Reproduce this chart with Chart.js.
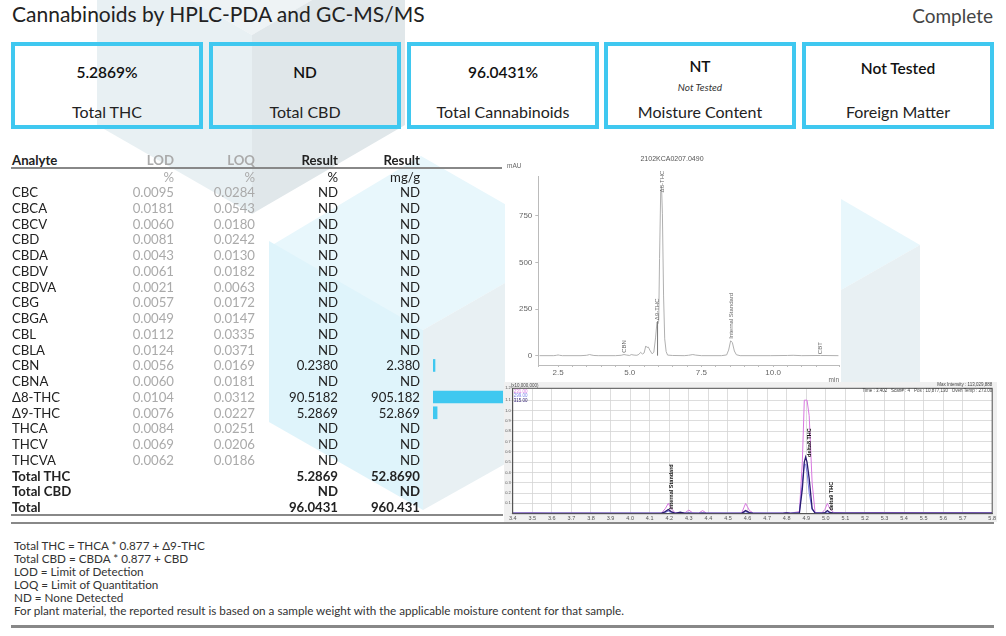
<!DOCTYPE html>
<html>
<head>
<meta charset="utf-8">
<script src="https://cdn.jsdelivr.net/npm/chart.js@4"></script>
<style>
html,body{margin:0;padding:0;background:#fff;overflow:hidden}
#page{position:relative;width:1006px;height:636px;font-family:Lato,sans-serif;color:#222;overflow:hidden}
#page>*{position:absolute}
#bg{left:0;top:0}
#title{left:12px;top:0;font-size:21px;line-height:28px;color:#222}
#status{right:13px;top:2px;font-size:19px;line-height:28px;color:#444}
.box{top:42px;height:87px;width:192px;box-sizing:border-box;border:4px solid #3fc8f0;text-align:center}
.box div{position:absolute;left:0;right:0}
.box .val{font-size:15.5px;font-weight:600;color:#111;line-height:20px}
.box .sub{font-size:10px;font-style:italic;top:35px;line-height:12px;color:#333}
.box .lab{font-size:16px;top:56px;line-height:20px;color:#222}
.cell{font-size:13.2px;line-height:16px;white-space:nowrap}
.r{text-align:right;width:90px}
.muted{color:#aaa}
.b{font-weight:700}
.rule{background:#888}
#notes{left:14px;top:539px;font-size:11.7px;line-height:13px;color:#333;white-space:nowrap}
#hplcWrap{left:505px;top:150px;width:336px;height:232px;background:#fff}
#gcWrap{left:504px;top:382px;width:493px;height:140px;background:#f0f0f0}
canvas{display:block}
#hplc{filter:blur(.45px)}
#gc{filter:blur(.3px)}
</style>
</head>
<body>
<div id="page">
<svg id="bg" width="1006" height="636">
  <polygon points="191,0 312,0 252,35" fill="#eef3f5"/>
  <polygon points="97,0 191,0 252,35 252,214 97,125" fill="#e8f0f3"/>
  <polygon points="312,0 405,0 405,125 252,214 252,35" fill="#e0e7ea"/>
  <polygon points="269,247 421,156 573,243 505,283 423,330" fill="#e8f7fc"/>
  <polygon points="269,241 423,330 423,510 269,422" fill="#dff4fb"/>
  <polygon points="423,330 505,283 505,464 423,510" fill="#e8f0f3"/>
  <polygon points="841,199 920,245 841,290" fill="#e8f7fc"/>
  <polygon points="841,290 920,245 920,390 841,390" fill="#e8f0f3"/>
</svg>
<div id="title">Cannabinoids by HPLC-PDA and GC-MS/MS</div>
<div id="status">Complete</div>
<div id="hplcWrap"><canvas id="hplc" width="336" height="232"></canvas></div>
<div id="gcWrap"><canvas id="gc" width="493" height="140"></canvas></div>
<canvas id="bars" width="72" height="284" style="left:433px;top:184px"></canvas>
<div id="notes"></div>
</div>

<script>
// summary boxes
const boxLefts=[11,209,407,604,802];
const boxValues=["5.2869%","ND","96.0431%","NT","Not Tested"];
const boxSubs=["","","","Not Tested",""];
const boxLabels=["Total THC","Total CBD","Total Cannabinoids","Moisture Content","Foreign Matter"];

// results table
const analytes=["CBC","CBCA","CBCV","CBD","CBDA","CBDV","CBDVA","CBG","CBGA","CBL","CBLA","CBN","CBNA","Δ8-THC","Δ9-THC","THCA","THCV","THCVA"];
const lodValues=["0.0095","0.0181","0.0060","0.0081","0.0043","0.0061","0.0021","0.0057","0.0049","0.0112","0.0124","0.0056","0.0060","0.0104","0.0076","0.0084","0.0069","0.0062"];
const loqValues=["0.0284","0.0543","0.0180","0.0242","0.0130","0.0182","0.0063","0.0172","0.0147","0.0335","0.0371","0.0169","0.0181","0.0312","0.0227","0.0251","0.0206","0.0186"];
const resultPct=["ND","ND","ND","ND","ND","ND","ND","ND","ND","ND","ND","0.2380","ND","90.5182","5.2869","ND","ND","ND"];
const resultMg=["ND","ND","ND","ND","ND","ND","ND","ND","ND","ND","ND","2.380","ND","905.182","52.869","ND","ND","ND"];
const totalNames=["Total THC","Total CBD","Total"];
const totalPct=["5.2869","ND","96.0431"];
const totalMg=["52.8690","ND","960.431"];
const barValues=[null,null,null,null,null,null,null,null,null,null,null,2.38,null,905.182,52.869,null,null,null];

const noteLines=["Total THC = THCA * 0.877 + Δ9-THC","Total CBD = CBDA * 0.877 + CBD","LOD = Limit of Detection","LOQ = Limit of Quantitation","ND = None Detected","For plant material, the reported result is based on a sample weight with the applicable moisture content for that sample."];

// HPLC trace
const hplcTimes=[1.85,2.35,2.45,2.5,2.55,2.65,3.3,3.5,3.6,3.65,3.75,3.9,4.5,4.7,4.8,4.9,5.0,5.05,5.15,5.25,5.32,5.38,5.44,5.5,5.56,5.6,5.65,5.7,5.78,5.84,5.9,5.95,5.98,6.01,6.04,6.08,6.11,6.14,6.18,6.22,6.27,6.32,6.5,6.9,7.05,7.2,7.3,7.5,8.2,8.38,8.45,8.52,8.58,8.65,8.72,8.85,9.9,10.5,10.7,11.0,11.65,12.28];
const hplcValues=[0,0,2,4,2,0,0,2,6,4,1,0,0,2,6,3,1,6,3,2,7,18,9,14,52,44,46,30,10,18,95,180,170,185,520,880,905,760,320,90,22,3,1,0,2,6,3,0,0,4,30,80,70,25,5,0,0,1,2,0,1,0];
const hplcMarkerTimes=[5.97,5.97];
const hplcMarkerValues=[0,185];
const hplcPeakNames=["CBN","Δ9-THC","Δ8-THC","Internal Standard","CBT"];
const hplcPeakTimes=[4.8,5.97,6.12,8.55,11.65];
const hplcPeakValues=[15,190,875,90,8];

// GC-MS traces
const gcTimes=[3.4,3.5,3.6,3.7,3.8,3.9,4.0,4.1,4.16,4.18,4.195,4.21,4.23,4.256,4.28,4.3,4.32,4.35,4.37,4.39,4.5,4.57,4.59,4.61,4.63,4.7,4.78,4.8,4.82,4.865,4.88,4.89,4.897,4.904,4.915,4.93,4.945,4.98,4.995,5.008,5.02,5.04,5.1,5.3,5.5,5.7,5.85];
const gcPink=[.006,.008,.005,.006,.006,.005,.005,.005,.006,.05,.1,.05,.008,.012,.008,.035,.008,.005,.03,.006,.005,.006,.1,.03,.006,.005,.006,.012,.006,.02,.5,1.1,1.1,1.1,.95,.3,.01,.008,.04,.1,.05,.012,.008,.012,.01,.01,.008];
const gcNavy=[.004,.004,.004,.004,.004,.004,.004,.004,.004,.02,.04,.02,.004,.015,.004,.006,.004,.004,.006,.004,.004,.004,.03,.01,.004,.004,.004,.008,.004,.008,.24,.5,.55,.5,.34,.05,.006,.006,.01,.03,.012,.006,.006,.006,.006,.006,.006];
const gcBlue=[.006,.006,.006,.006,.006,.006,.006,.006,.006,.012,.025,.012,.006,.008,.006,.008,.006,.006,.008,.006,.006,.006,.018,.01,.006,.006,.006,.008,.006,.01,.3,.48,.48,.4,.2,.04,.008,.006,.008,.016,.01,.006,.006,.006,.006,.006,.006];
const gcPeakNames=["Internal Standard","delta8 THC","delta9 THC"];
const gcPeakTimes=[4.21,4.915,5.028];
const gcPeakValues=[.04,.55,.03];

const page=document.getElementById("page");
const addCell=(text,x,y,cls,right)=>{
    const d=document.createElement("div");
    d.className="cell "+cls+(right?" r":"");
    d.textContent=text;
    d.style.left=(right?x-90:x)+"px";
    d.style.top=(y-8)+"px";
    page.appendChild(d);
};
const addRule=(x,y,w,h)=>{
    const d=document.createElement("div");
    d.className="rule";
    d.style.cssText+=`left:${x}px;top:${y}px;width:${w}px;height:${h}px`;
    page.appendChild(d);
};

boxLefts.forEach((x,i)=>{
    const b=document.createElement("div");
    b.className="box";
    b.style.left=x+"px";
    const valTop=boxValues[i]=="NT"?10:(boxValues[i]=="Not Tested"?12:16);
    b.innerHTML=`<div class="val" style="top:${valTop}px">${boxValues[i]}</div>`+
        (boxSubs[i]?`<div class="sub">${boxSubs[i]}</div>`:"")+
        `<div class="lab">${boxLabels[i]}</div>`;
    page.appendChild(b);
});

const colLod=174,colLoq=255,colPct=338,colMg=420;
const rowTop=192,rowStep=15.75;
addCell("Analyte",12,160,"b");
addCell("LOD",colLod,160,"muted b",true);
addCell("LOQ",colLoq,160,"muted b",true);
addCell("Result",colPct,160,"b",true);
addCell("Result",colMg,160,"b",true);
addCell("%",colLod,177,"muted",true);
addCell("%",colLoq,177,"muted",true);
addCell("%",colPct,177,"",true);
addCell("mg/g",colMg,177,"",true);
analytes.forEach((a,i)=>{
    const y=rowTop+i*rowStep;
    addCell(a,12,y,"");
    addCell(lodValues[i],colLod,y,"muted",true);
    addCell(loqValues[i],colLoq,y,"muted",true);
    addCell(resultPct[i],colPct,y,"",true);
    addCell(resultMg[i],colMg,y,"",true);
});
totalNames.forEach((a,i)=>{
    const y=rowTop+(analytes.length+i)*rowStep;
    addCell(a,12,y,"b");
    addCell(totalPct[i],colPct,y,"b",true);
    addCell(totalMg[i],colMg,y,"b",true);
});
addRule(11,167,491,2);
addRule(11,514,492,2);
addRule(11,522,983,2);
addRule(11,625,983,3);
document.getElementById("notes").innerHTML=noteLines.join("<br>");

// vertical peak names, anchored on the data
const peakLabelPlugin={
    id:"peakLabels",
    afterDatasetsDraw(chart,args,opts){
        const c=chart.ctx;
        c.save();
        c.font=opts.font;
        c.fillStyle=opts.color;
        c.textAlign="left";
        c.textBaseline="middle";
        opts.names.forEach((n,i)=>{
            c.save();
            c.translate(chart.scales.x.getPixelForValue(opts.times[i]),chart.scales.y.getPixelForValue(opts.values[i]));
            c.rotate(-Math.PI/2);
            c.fillText(n,0,0);
            c.restore();
        });
        c.restore();
    }
};

const xyPoints=(xs,ys)=>xs.map((x,i)=>({x:x,y:ys[i]}));

new Chart(document.getElementById("hplc"),{
    type:"line",
    data:{datasets:[
        {data:xyPoints(hplcMarkerTimes,hplcMarkerValues),borderColor:"#777",borderWidth:1,pointRadius:0},
        {data:xyPoints(hplcTimes,hplcValues),borderColor:"#b0b0b0",borderWidth:1,pointRadius:0,tension:0}
    ]},
    options:{
        responsive:false,animation:false,
        layout:{padding:{right:2}},
        plugins:{
            legend:{display:false},tooltip:{enabled:false},
            title:{display:true,text:"2102KCA0207.0490",color:"#555",font:{family:"Liberation Sans",size:7,weight:"normal"},padding:{top:5,bottom:13.3}},
            peakLabels:{names:hplcPeakNames,times:hplcPeakTimes,values:hplcPeakValues,font:"6px 'Liberation Sans'",color:"#666"}
        },
        scales:{
            x:{type:"linear",min:1.81,max:12.3,
                afterFit:s=>{s.height=17},
                border:{color:"#bbb"},
                grid:{drawOnChartArea:false,tickLength:2,color:"#bbb"},
                ticks:{stepSize:.5,autoSkip:false,maxRotation:0,padding:1,color:"#666",font:{family:"Liberation Sans",size:8},
                    callback:v=>(Math.abs(v/2.5-Math.round(v/2.5))<.001)?v.toFixed(1):""}},
            y:{min:-50,max:959,
                afterFit:s=>{s.width=33.3},
                border:{color:"#bbb"},
                grid:{drawOnChartArea:false,tickLength:3,color:"#bbb",
                    tickColor:ctx=>(ctx.tick&&ctx.tick.value>=0&&ctx.tick.value%250==0)?"#bbb":"rgba(0,0,0,0)"},
                ticks:{stepSize:50,autoSkip:false,padding:3,color:"#666",font:{family:"Liberation Sans",size:8},
                    callback:v=>(v>=0&&v%250==0)?String(v):""}}
        }
    },
    plugins:[peakLabelPlugin,{
        id:"hplcUnits",
        afterDraw(chart){
            const c=chart.ctx,a=chart.chartArea;
            c.save();
            c.font="6.5px 'Liberation Sans'";
            c.fillStyle="#666";
            c.textBaseline="middle";
            c.textAlign="left";
            c.fillText("mAU",2,16);
            c.textAlign="right";
            c.fillText("min",a.right,a.bottom+15);
            c.restore();
        }
    }]
});

new Chart(document.getElementById("gc"),{
    type:"line",
    data:{datasets:[
        {label:"315.00",data:xyPoints(gcTimes,gcNavy),borderColor:"#2b1a70",borderWidth:1.3,pointRadius:0},
        {label:"299.00",data:xyPoints(gcTimes,gcBlue),borderColor:"#7a80e8",borderWidth:1,pointRadius:0},
        {label:"231.00",data:xyPoints(gcTimes,gcPink),borderColor:"#d878e0",borderWidth:1,pointRadius:0}
    ]},
    options:{
        responsive:false,animation:false,
        layout:{padding:{top:6.3,right:2.7}},
        plugins:{
            legend:{display:false},tooltip:{enabled:false},
            peakLabels:{names:gcPeakNames,times:gcPeakTimes,values:gcPeakValues,font:"bold 5.5px 'Liberation Sans'",color:"#111"}
        },
        scales:{
            x:{type:"linear",min:3.4,max:5.85,
                afterFit:s=>{s.height=8.3},
                border:{color:"#555"},
                grid:{color:"#d4d4d4",tickLength:0,lineWidth:.8,borderDash:[1.5,3]},
                ticks:{stepSize:.1,autoSkip:false,maxRotation:0,padding:1,color:"#555",font:{family:"Liberation Sans",size:5.5},
                    callback:v=>v.toFixed(1)}},
            y:{min:0,max:1.215,
                afterFit:s=>{s.width=8.7},
                border:{color:"#555"},
                grid:{color:"#d4d4d4",tickLength:2,lineWidth:.8,borderDash:[1.5,3]},
                ticks:{stepSize:.1,padding:0,color:"#555",font:{family:"Liberation Sans",size:4},
                    callback:v=>(v>.05&&v<1.25)?v.toFixed(1):""}}
        }
    },
    plugins:[peakLabelPlugin,{
        id:"gcFrame",
        beforeDraw(chart){
            const c=chart.ctx,a=chart.chartArea;
            c.save();
            c.fillStyle="#fff";
            c.fillRect(a.left,a.top,a.width,a.height);
            c.restore();
        },
        afterDraw(chart){
            const c=chart.ctx,a=chart.chartArea;
            c.save();
            c.strokeStyle="#555";
            c.lineWidth=1;
            c.strokeRect(a.left,a.top,a.width,a.height);
            c.font="4.5px 'Liberation Sans'";
            c.fillStyle="#444";
            c.textBaseline="middle";
            c.textAlign="left";
            c.fillText("(x10,000,000)",a.left-2,3.5);
            chart.data.datasets.slice().reverse().forEach((d,i)=>{
                c.fillStyle=d.borderColor;
                c.fillText(d.label,a.left+1,a.top+3+i*4.5);
            });
            c.fillStyle="#444";
            c.textAlign="right";
            c.fillText("Max Intensity : 113,029,888",a.right,3);
            c.fillText("Time : 3.402   Scan# : 4   Pos : 10,877,130   Oven Temp : 273.00",a.right,a.top+2.5);
            c.restore();
        }
    }]
});

new Chart(document.getElementById("bars"),{
    type:"bar",
    data:{labels:analytes,datasets:[{data:barValues,backgroundColor:"#3fc8f0",barThickness:12,minBarLength:2}]},
    options:{
        indexAxis:"y",responsive:false,animation:false,
        layout:{padding:{right:2}},
        plugins:{legend:{display:false},tooltip:{enabled:false}},
        scales:{x:{display:false,min:0,max:905.182},y:{display:false}}
    }
});
</script>
</body>
</html>
